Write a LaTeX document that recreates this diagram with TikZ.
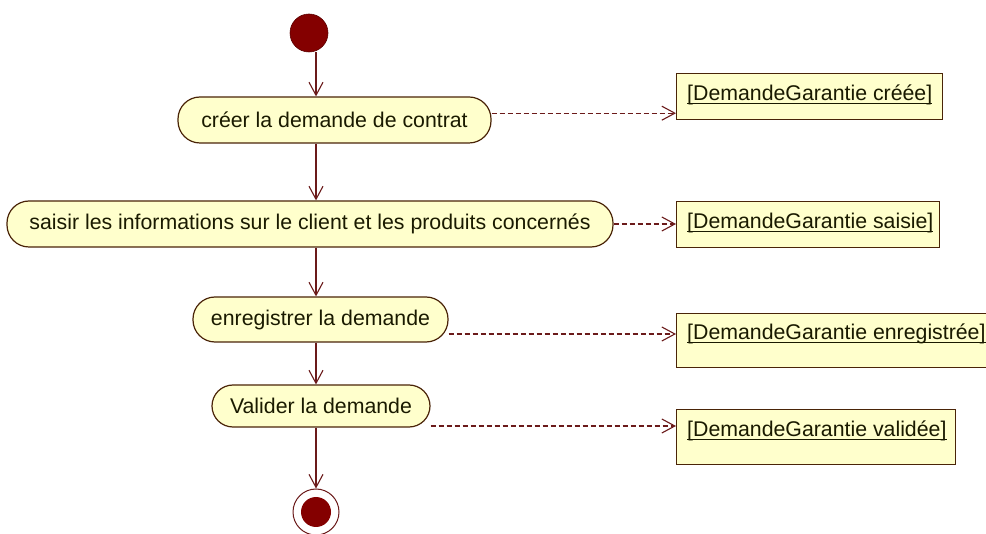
\documentclass[tikz,border=0pt]{standalone}
\usepackage{fontspec}
\setmainfont{Liberation Sans}
\usetikzlibrary{arrows.meta,calc}
\definecolor{fillY}{HTML}{FFFFCC}
\definecolor{edgeB}{HTML}{4A2408}
\definecolor{lineR}{HTML}{6B1A1A}
\definecolor{dotR}{HTML}{840000}
\definecolor{txtC}{HTML}{1A1A00}
\newcommand\ulbox[1]{\setbox0\hbox{#1}\rlap{\rule[-3.5pt]{\wd0}{1.1pt}}\box0}
\begin{document}
\begin{tikzpicture}[x=1pt,y=-1pt,
  font=\fontsize{21.3}{25}\selectfont,
  activity/.style={draw=edgeB, fill=fillY, line width=1.2pt, rounded corners=#1,
    inner sep=0pt, text=txtC},
  activity/.default=22pt,
  objbox/.style={draw=edgeB, fill=fillY, line width=1.2pt, inner sep=0pt},
  objtext/.style={anchor=west, inner sep=0pt, text=txtC},
  flow/.style={draw=lineR, line width=1.3pt, -{Straight Barb[length=13pt,width=14pt,line width=1.1pt]}},
  objflow/.style={draw=lineR, line width=1.3pt, dash pattern=on 5pt off 3pt,
    -{Straight Barb[length=13pt,width=14pt,line width=1.1pt]}}
]
\useasboundingbox (0,0) rectangle (986,534);
\clip (0,0) rectangle (986,534);
\fill[white] (0,0) rectangle (986,534);

% column for the control flow
\coordinate (col) at (316,0);

% initial node
\node[circle, fill=dotR, draw=dotR!70!black, line width=0.6pt, minimum size=38pt, inner sep=0pt] (start) at (309,33) {};

% activities
\node[activity, minimum width=313pt, minimum height=46pt] (a1) at (334.5,120) {créer la demande de contrat};
\node[activity, minimum width=606pt, minimum height=46pt] (a2) at (310,224) {saisir les informations sur le client et les produits concernés};
\node[activity, minimum width=255pt, minimum height=45pt] (a3) at (320.5,319.5) {enregistrer la demande};
\node[activity=21pt, minimum width=218pt, minimum height=42pt] (a4) at (321,406) {Valider la demande};

% final node
\node[circle, draw=lineR, fill=white, line width=1pt, minimum size=46pt, inner sep=0pt] (end) at (316,512) {};
\node[circle, fill=dotR, minimum size=30pt, inner sep=0pt] (endin) at (end.center) {};

% object nodes
\node[objbox, anchor=north west, minimum width=266pt, minimum height=46pt] (b1) at (676,73) {};
\node[objtext] (t1) at ($(b1.north west)+(11,22)$) {\ulbox{[DemandeGarantie créée]}};
\node[objbox, anchor=north west, minimum width=263pt, minimum height=46pt] (b2) at (676,201) {};
\node[objtext] (t2) at ($(b2.north west)+(11,22)$) {\ulbox{[DemandeGarantie saisie]}};
\node[objbox, anchor=north west, minimum width=311pt, minimum height=54pt] (b3) at (676,313) {};
\node[objtext] (t3) at ($(b3.north west)+(11,21)$) {\ulbox{[DemandeGarantie enregistrée]}};
\node[objbox, anchor=north west, minimum width=279pt, minimum height=55pt] (b4) at (676,409) {};
\node[objtext] (t4) at ($(b4.north west)+(11,22)$) {\ulbox{[DemandeGarantie validée]}};

% entry points of the object flows
\coordinate (e1) at ($(b1.south west)+(0,-7)$);
\coordinate (e2) at ($(b2.north west)+(0,23)$);
\coordinate (e3) at ($(b3.north west)+(0,21)$);
\coordinate (e4) at ($(b4.north west)+(0,17)$);

% control flows
\draw[flow] (start.south -| col) -- (a1.north -| col);
\draw[flow] (a1.south -| col) -- (a2.north -| col);
\draw[flow] (a2.south -| col) -- (a3.north -| col);
\draw[flow] (a3.south -| col) -- (a4.north -| col);
\draw[flow] (a4.south -| col) -- (end.north);

% object flows
\draw[objflow] (a1.east |- e1) -- (e1);
\draw[objflow] (a2.east |- e2) -- (e2);
\draw[objflow] (a3.east |- e3) -- (e3);
\draw[objflow] (a4.east |- e4) -- (e4);
\end{tikzpicture}
\end{document}
